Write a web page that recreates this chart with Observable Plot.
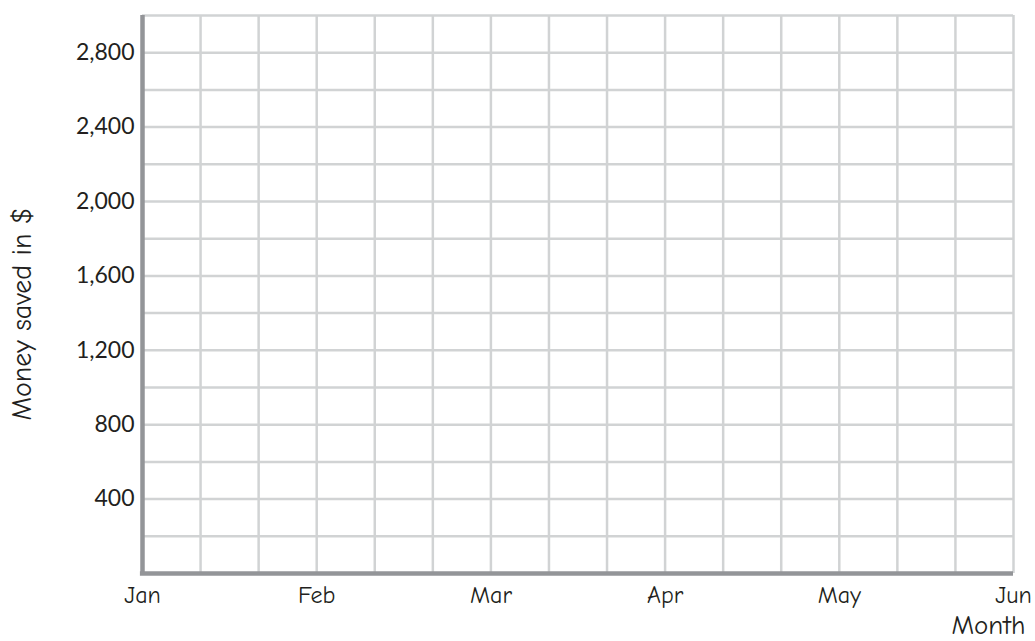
<!DOCTYPE html>
<html>
<head>
<meta charset="utf-8">
<script src="https://cdn.jsdelivr.net/npm/d3@7"></script>
<script src="https://cdn.jsdelivr.net/npm/@observablehq/plot@0.6"></script>
<style>
  html, body { margin: 0; padding: 0; background: #fff; }
  #chart { width: 1035px; height: 641px; }
</style>
</head>
<body>
<div id="chart"></div>
<script>
// Data
const months = ["Jan", "Feb", "Mar", "Apr", "May", "Jun"];
const yTickValues = [400, 800, 1200, 1600, 2000, 2400, 2800];
const yGridStep = 200;
const yMax = 3000;
const xGridPerMonth = 3;
const xLabel = "Month";
const yLabel = "Money saved in $";

const monthIdx = months.map((m, i) => i);
const xGrid = d3.range(0, (months.length - 1) * xGridPerMonth + 1).map(k => k / xGridPerMonth);
const yGrid = d3.range(yGridStep, yMax + 1, yGridStep);

const comic = "'Comic Sans MS', 'Comic Neue', 'DejaVu Sans', sans-serif";
const gill = "Lato, 'Open Sans', sans-serif";

const chart = Plot.plot({
  width: 1035,
  height: 641,
  marginLeft: 142,
  marginRight: 22,
  marginTop: 15,
  marginBottom: 68,
  x: { domain: [0, months.length - 1] },
  y: { domain: [0, yMax] },
  marks: [
    Plot.ruleX(xGrid.filter(d => d > 0), { stroke: "#d1d3d4", strokeWidth: 2.5 }),
    Plot.ruleY(yGrid, { stroke: "#d1d3d4", strokeWidth: 2.5 }),
    Plot.ruleX([0], { stroke: "#939598", strokeWidth: 4.5 }),
    Plot.ruleY([0], { stroke: "#939598", strokeWidth: 4.5, x1: -0.012, x2: months.length - 1 }),
    Plot.axisX(monthIdx, {
      tickSize: 0, tickPadding: 12,
      tickFormat: i => months[i],
      fontSize: 24, fontFamily: comic, fill: "#231f20",
      label: null
    }),
    Plot.axisY(yTickValues, {
      tickSize: 0, tickPadding: 8,
      tickFormat: d3.format(","),
      fontSize: 23, fontFamily: gill, fill: "#231f20",
      label: null
    }),
    Plot.text([xLabel], {
      frameAnchor: "bottom-right", dx: 12, dy: 60,
      fontSize: 27, fontFamily: comic, fill: "#231f20", textAnchor: "end"
    }),
    Plot.text([yLabel], {
      frameAnchor: "left", dx: -120, dy: 126, rotate: -90,
      fontSize: 28, fontFamily: comic, fill: "#231f20"
    })
  ]
});
document.getElementById("chart").appendChild(chart);
</script>
</body>
</html>
